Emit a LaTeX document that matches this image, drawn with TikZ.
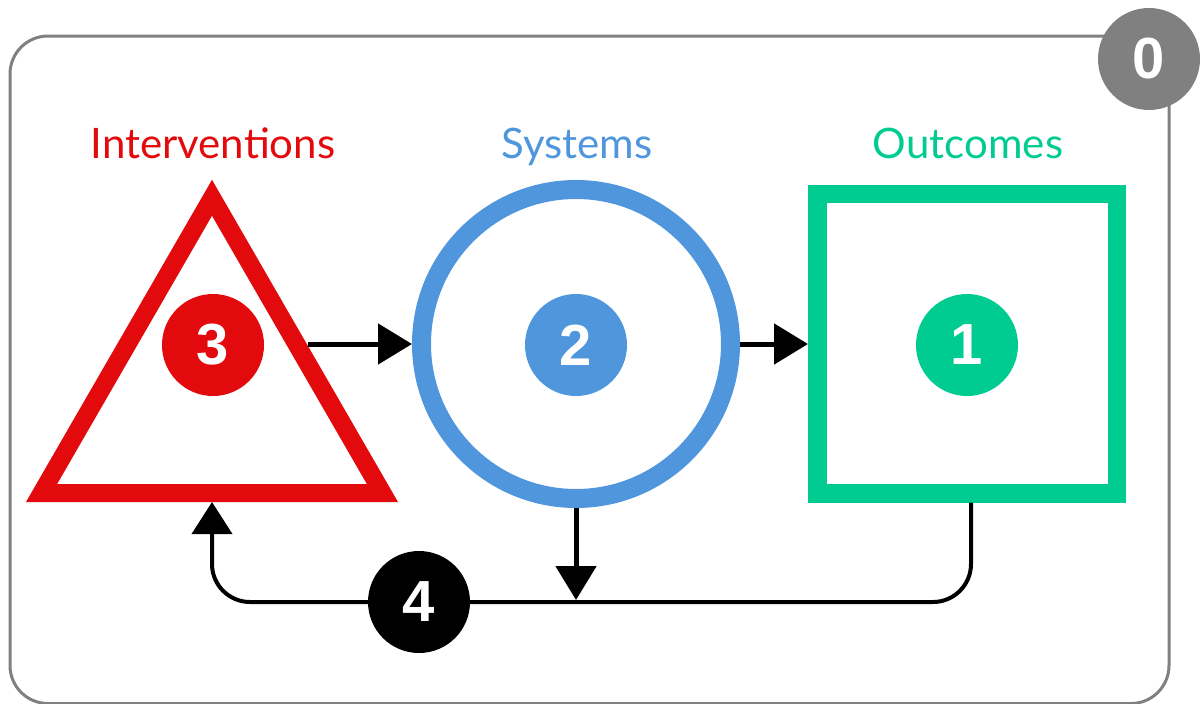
\documentclass[tikz,border=0pt]{standalone}
\usepackage{fontspec}
\setmainfont{Lato}
\newfontfamily\digitfont{Liberation Sans}
\usetikzlibrary{arrows.meta,shapes.geometric}
\definecolor{ivred}{RGB}{226,10,12}
\definecolor{sysblue}{RGB}{80,150,220}
\definecolor{outgreen}{RGB}{0,204,146}
\definecolor{framegray}{RGB}{128,128,128}
\begin{document}
\begin{tikzpicture}[x=1pt,y=-1pt,
  badge/.style={circle,minimum size=102pt,inner sep=0pt,text=white,
    font=\digitfont\bfseries\fontsize{58}{60}\selectfont},
  heading/.style={anchor=base,font=\fontsize{42}{50}\selectfont},
  flow/.style={line width=5pt,-{Triangle[length=34pt,width=40pt]}},
  loopline/.style={line width=4pt,rounded corners=38pt,
    -{Triangle[length=32pt,width=40pt]}}
]
\useasboundingbox (0,0) rectangle (1200,704);

% outer frame
\draw[framegray,line width=3pt,rounded corners=38pt] (10,36) rectangle (1169,703.5);

% headings
\node[heading,text=ivred] (hint) at (213,158) {Interventions};
\node[heading,text=sysblue] (hsys) at (577,158) {Systems};
\node[heading,text=outgreen] (hout) at (968,158) {Outcomes};

% main shapes
\node[draw=ivred,line width=18pt,regular polygon,regular polygon sides=3,
  minimum size=393.6pt,inner sep=0pt] (tri) at (212,394.6) {};
\node[draw=sysblue,line width=19pt,circle,minimum size=309pt,inner sep=0pt]
  (sys) at (576,344) {};
\node[draw=outgreen,line width=18.5pt,rectangle,minimum size=299.5pt,inner sep=0pt]
  (out) at (967,343.5) {};

% connectors
\draw[flow] (tri.27 |- sys.west) -- (sys.west);
\draw[flow] (sys.east) -- (sys.east -| out.west);
\draw[loopline] ([xshift=4pt]out.south) |- (419,602) -| (tri.south);
\draw[flow,shorten >=2pt] (sys.south) -- (sys.south |- 0,602);

% numbered badges
\node[badge,fill=ivred] (b3) at (213,345) {3};
\node[badge,fill=sysblue] (b2) at (576,345) {2};
\node[badge,fill=outgreen] (b1) at (967,345) {1};
\node[badge,fill=black] (b4) at (419,602) {4};
\node[badge,fill=framegray] (b0) at (1149,59) {0};
\end{tikzpicture}
\end{document}
